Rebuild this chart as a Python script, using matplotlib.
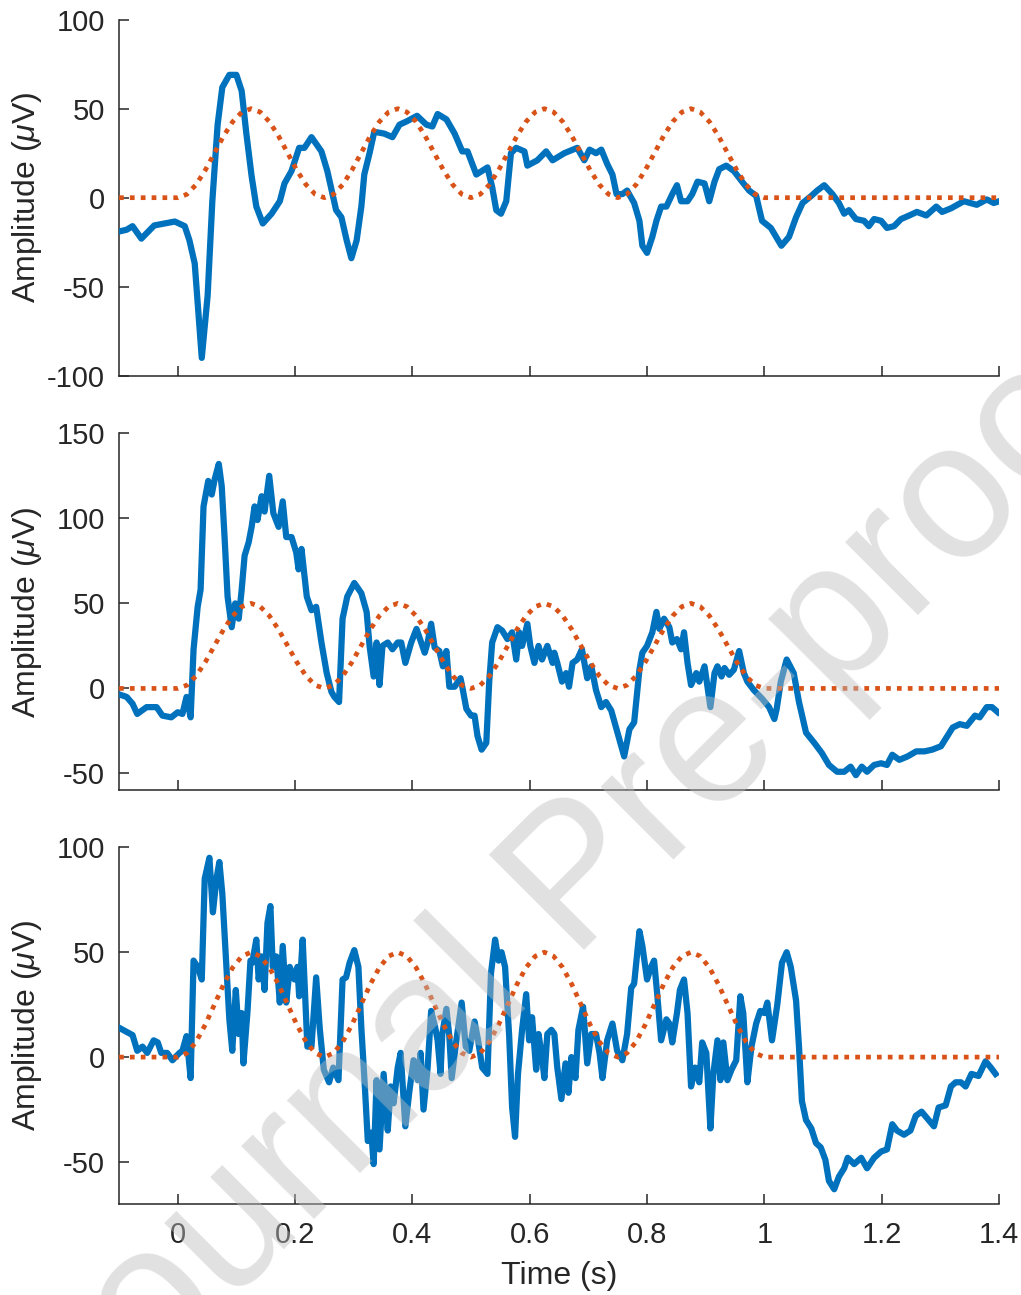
import numpy as np
import matplotlib
matplotlib.use('Agg')
from matplotlib import pyplot as plt

# Trace do painel superior (tempo em s, amplitude em uV)
top_t = [-0.1, -0.087, -0.077, -0.062, -0.04, -0.005, 0.012, 0.02, 0.029, 0.041,
         0.051, 0.059, 0.068, 0.076, 0.088, 0.1, 0.109, 0.117, 0.126, 0.134,
         0.145, 0.16, 0.174, 0.182, 0.194, 0.207, 0.216, 0.228, 0.245, 0.255,
         0.27, 0.279, 0.288, 0.296, 0.305, 0.313, 0.318, 0.327, 0.335, 0.352,
         0.366, 0.378, 0.391, 0.408, 0.424, 0.434, 0.443, 0.458, 0.472, 0.485,
         0.494, 0.509, 0.528, 0.536, 0.543, 0.551, 0.56, 0.568, 0.577, 0.591,
         0.596, 0.613, 0.628, 0.639, 0.659, 0.681, 0.693, 0.702, 0.713, 0.722,
         0.732, 0.741, 0.748, 0.758, 0.766, 0.778, 0.787, 0.792, 0.8, 0.809,
         0.816, 0.824, 0.833, 0.843, 0.851, 0.858, 0.869, 0.877, 0.886, 0.898,
         0.906, 0.915, 0.923, 0.935, 0.948, 0.962, 0.974, 0.986, 0.996, 1.011,
         1.029, 1.042, 1.054, 1.065, 1.08, 1.09, 1.102, 1.116, 1.127, 1.136,
         1.144, 1.156, 1.17, 1.178, 1.187, 1.199, 1.209, 1.221, 1.233, 1.247,
         1.26, 1.276, 1.293, 1.303, 1.318, 1.34, 1.362, 1.379, 1.391, 1.4]
top_v = [-19, -18, -16, -23, -15.6, -13.4, -16, -24, -37, -90,
         -55, -2, 41, 62, 69, 69, 60, 36, 12, -5,
         -14.5, -9, -2, 8, 15, 28, 28, 34, 26, 15,
         -7, -11, -24, -34, -24, -5, 13, 25, 37, 36,
         34, 41, 43, 46, 41, 40, 47, 44, 36, 26,
         26, 13, 17, 6, -7, -9, -2, 25, 28, 26,
         18, 21, 26, 21, 25, 28, 21, 27, 25, 27,
         19, 13, 2, 2, 4, -3, -13, -27, -31, -22,
         -13, -5, -5, 2, 7, -2, -2, 2, 9, 8,
         -2, 9, 16, 18, 15, 9, 4, 1, -13, -17,
         -27, -22, -11, -3, 1, 4, 7, 2, -3, -9,
         -7, -12, -13, -16, -12, -13, -17, -16, -12, -10,
         -8, -10, -5, -8, -6, -2, -4, -1, -3, -2]

# Trace do painel do meio
mid_t = [-0.1, -0.087, -0.077, -0.069, -0.053, -0.036, -0.026, -0.011, 0.0, 0.008,
         0.015, 0.022, 0.027, 0.034, 0.039, 0.044, 0.052, 0.058, 0.063, 0.07,
         0.075, 0.08, 0.085, 0.092, 0.098, 0.104, 0.109, 0.114, 0.121, 0.126,
         0.131, 0.136, 0.143, 0.148, 0.156, 0.163, 0.172, 0.179, 0.185, 0.194,
         0.202, 0.206, 0.211, 0.22, 0.228, 0.236, 0.245, 0.254, 0.262, 0.267,
         0.275, 0.281, 0.289, 0.301, 0.313, 0.322, 0.327, 0.334, 0.339, 0.344,
         0.349, 0.358, 0.366, 0.375, 0.381, 0.388, 0.398, 0.407, 0.415, 0.421,
         0.426, 0.432, 0.438, 0.446, 0.452, 0.458, 0.463, 0.472, 0.482, 0.485,
         0.492, 0.5, 0.506, 0.511, 0.518, 0.526, 0.531, 0.536, 0.545, 0.553,
         0.562, 0.57, 0.577, 0.582, 0.587, 0.596, 0.601, 0.608, 0.615, 0.621,
         0.63, 0.639, 0.642, 0.647, 0.655, 0.662, 0.667, 0.673, 0.681, 0.689,
         0.698, 0.705, 0.713, 0.722, 0.73, 0.739, 0.748, 0.756, 0.761, 0.77,
         0.778, 0.787, 0.792, 0.8, 0.809, 0.816, 0.821, 0.829, 0.838, 0.843,
         0.851, 0.858, 0.863, 0.869, 0.875, 0.884, 0.889, 0.898, 0.908, 0.915,
         0.92, 0.927, 0.932, 0.94, 0.948, 0.957, 0.965, 0.971, 0.982, 0.996,
         1.008, 1.017, 1.021, 1.028, 1.038, 1.05, 1.059, 1.071, 1.085, 1.098,
         1.11, 1.124, 1.136, 1.147, 1.156, 1.166, 1.175, 1.187, 1.199, 1.209,
         1.218, 1.23, 1.244, 1.259, 1.273, 1.286, 1.301, 1.31, 1.321, 1.333,
         1.345, 1.359, 1.367, 1.379, 1.388, 1.398]
mid_v = [-3.5, -5, -9, -15, -11, -11, -16, -17, -14, -15,
         -5, -17, 23, 48, 58, 107, 122, 114, 123, 132,
         119, 88, 54, 36, 50, 41, 58, 78, 86, 95,
         107, 99, 113, 104, 125, 103, 95, 110, 89, 89,
         80, 70, 82, 54, 46, 48, 27, 9, -2, -5,
         -8, 41, 54, 62, 56, 45, 25, 7, 27, 2,
         25, 27, 23, 27, 27, 15, 27, 35, 27, 21,
         27, 38, 24, 22, 13, 22, 1, 1, 6, 1,
         -12, -16, -16, -28, -36, -32, 4, 27, 36, 34,
         29, 33, 17, 33, 25, 38, 25, 15, 25, 17,
         25, 15, 21, 15, 4, 9, 1, 15, 17, 23,
         6, 13, -1, -11, -8, -13, -24, -34, -40, -24,
         -20, 11, 21, 25, 33, 45, 35, 41, 36, 27,
         29, 23, 33, 15, 2, 9, 4, 13, -11, 9,
         13, 7, 12, 8, 11, 22, 9, 4, -1, -6,
         -11, -18, -12, 4, 17, 9, -8, -26, -32, -38,
         -45, -49, -49, -46, -51, -46, -49, -45, -44, -45,
         -39, -42, -40, -37, -37, -36, -34, -29, -23, -21,
         -22, -16, -17, -11, -11, -14]

# Trace do painel inferior
bot_t = [-0.1, -0.087, -0.077, -0.069, -0.06, -0.052, -0.041, -0.034, -0.028, -0.018,
         -0.009, 0.003, 0.008, 0.015, 0.022, 0.027, 0.034, 0.041, 0.046, 0.054,
         0.06, 0.066, 0.071, 0.076, 0.083, 0.088, 0.093, 0.099, 0.104, 0.109,
         0.112, 0.119, 0.124, 0.127, 0.134, 0.138, 0.143, 0.148, 0.153, 0.158,
         0.162, 0.168, 0.174, 0.179, 0.185, 0.191, 0.199, 0.204, 0.207, 0.213,
         0.221, 0.228, 0.236, 0.242, 0.249, 0.258, 0.265, 0.274, 0.281, 0.287,
         0.293, 0.301, 0.308, 0.313, 0.319, 0.324, 0.33, 0.334, 0.339, 0.344,
         0.351, 0.358, 0.363, 0.368, 0.375, 0.38, 0.388, 0.395, 0.402, 0.409,
         0.414, 0.419, 0.426, 0.432, 0.439, 0.443, 0.448, 0.451, 0.458, 0.463,
         0.467, 0.475, 0.484, 0.491, 0.497, 0.506, 0.512, 0.519, 0.528, 0.534,
         0.541, 0.547, 0.552, 0.558, 0.565, 0.57, 0.575, 0.58, 0.587, 0.594,
         0.599, 0.604, 0.611, 0.615, 0.62, 0.625, 0.63, 0.637, 0.642, 0.647,
         0.654, 0.661, 0.666, 0.671, 0.678, 0.683, 0.691, 0.698, 0.705, 0.713,
         0.719, 0.724, 0.732, 0.741, 0.749, 0.758, 0.766, 0.773, 0.778, 0.787,
         0.792, 0.8, 0.807, 0.812, 0.817, 0.824, 0.833, 0.838, 0.843, 0.851,
         0.856, 0.863, 0.869, 0.875, 0.882, 0.889, 0.894, 0.901, 0.908, 0.913,
         0.92, 0.925, 0.93, 0.937, 0.944, 0.952, 0.959, 0.964, 0.971, 0.978,
         0.986, 0.993, 1.0, 1.005, 1.013, 1.022, 1.03, 1.038, 1.045, 1.054,
         1.059, 1.064, 1.071, 1.08, 1.088, 1.096, 1.104, 1.11, 1.119, 1.127,
         1.136, 1.142, 1.153, 1.165, 1.175, 1.187, 1.199, 1.209, 1.218, 1.226,
         1.238, 1.249, 1.258, 1.268, 1.277, 1.289, 1.297, 1.309, 1.318, 1.326,
         1.335, 1.343, 1.353, 1.365, 1.377, 1.386, 1.394]
bot_v = [14, 12, 10.5, 3, 5, 2, 8, 7, 2, 2,
         -1.5, 2, 3, 10, -10, 46, 43, 37, 85, 95,
         69, 85, 93, 78, 43, 18, 3, 32, 11, 21,
         -3, 22, 46, 45, 56, 37, 48, 32, 64, 72,
         43, 48, 26, 53, 26, 43, 37, 43, 29, 56,
         5, 5, 38, 14, -6, -12, -5, -11, 37, 38,
         45, 51, 43, 14, -14, -40, -36, -51, -11, -44,
         -8, -35, -14, -22, -5, 2, -33, -16, -1.5, -11,
         2, -25, -5, 22, 14, 8, -8, 11, 23, 10,
         -10, 8, 26, 5, 3, 17, 8, -5, -8, 40,
         56, 46, 50, 43, 10, -24, -38, -8, 13, 30,
         8, 19, -6, 11, 2, -10, 11, 13, 11, -5,
         -20, -3, -17, 0, -10, 13, 24, -3, 11, 11,
         2, -10, 8, 16, 3, -1.5, 11, 33, 35, 60,
         53, 37, 43, 46, 31, 8, 18, 16, 7, 21,
         32, 37, 21, -14, -5, -12, 7, 2, -34, -8,
         8, -11, 7, -11, -6, -1.5, 29, 21, -12, 5,
         16, 22, 21, 26, 8, 25, 45, 50, 43, 27,
         5, -21, -30, -34, -41, -43, -49, -59, -63, -57,
         -53, -48, -51, -48, -53, -48, -45, -44, -32, -35,
         -37, -35, -28, -26, -29, -33, -24, -23, -14, -12,
         -12, -14, -8, -9, -2, -5, -8]

# Estimulo (pontilhado laranja), amostrado a cada 1/64 s entre 0 e 1 s
stim_t = [-0.1] + [k / 64 for k in range(65)] + [1.4]
stim_v = [0,
          0, 1.9, 7.3, 15.4, 25, 34.6, 42.7, 48.1, 50, 48.1, 42.7, 34.6, 25, 15.4, 7.3, 1.9,
          0, 1.9, 7.3, 15.4, 25, 34.6, 42.7, 48.1, 50, 48.1, 42.7, 34.6, 25, 15.4, 7.3, 1.9,
          0, 1.9, 7.3, 15.4, 25, 34.6, 42.7, 48.1, 50, 48.1, 42.7, 34.6, 25, 15.4, 7.3, 1.9,
          0, 1.9, 7.3, 15.4, 25, 34.6, 42.7, 48.1, 50, 48.1, 42.7, 34.6, 25, 15.4, 7.3, 1.9,
          0,
          0]

x_ticks = [0, 0.2, 0.4, 0.6, 0.8, 1, 1.2, 1.4]
x_tick_labels = ['0', '0.2', '0.4', '0.6', '0.8', '1', '1.2', '1.4']

AZUL = '#0072BD'
LARANJA = '#D95319'
CINZA = '#262626'

plt.rcParams['font.family'] = ['Liberation Sans', 'DejaVu Sans']
plt.rcParams['mathtext.fontset'] = 'custom'
plt.rcParams['mathtext.rm'] = 'Liberation Sans'
plt.rcParams['mathtext.it'] = 'Liberation Sans:italic'
plt.rcParams['axes.unicode_minus'] = False


def configura_eixo(ax, ylim, yticks, mostra_x):
    ax.set_xlim(-0.1, 1.4)
    ax.set_ylim(*ylim)
    ax.set_yticks(yticks)
    ax.set_yticklabels([str(v) for v in yticks])
    ax.set_xticks(x_ticks)
    if mostra_x:
        ax.set_xticklabels(x_tick_labels)
    else:
        ax.set_xticklabels([])
    for lado in ['top', 'right']:
        ax.spines[lado].set_visible(False)
    for lado in ['left', 'bottom']:
        ax.spines[lado].set_color(CINZA)
        ax.spines[lado].set_linewidth(1.1)
    ax.tick_params(direction='in', length=7, width=1.1, color=CINZA,
                   labelcolor=CINZA, labelsize=21)
    ax.tick_params(axis='y', pad=10)
    ax.tick_params(axis='x', pad=12)
    ax.set_ylabel(r'Amplitude ($\mu$V)', fontsize=23, color=CINZA)
    ax.yaxis.set_label_coords(-0.085, 0.5)


def plota_painel(ax, t, v):
    ax.plot(t, v, color=AZUL, linewidth=4.5, solid_joinstyle='round', zorder=3)
    ax.plot(stim_t, stim_v, color=LARANJA, linewidth=3.4,
            linestyle=(0, (1, 1.3)), dash_capstyle='butt', zorder=4)


fig = plt.figure(figsize=(10.21, 12.95), dpi=100)
ax1 = fig.add_axes([0.1166, 0.7099, 0.8619, 0.2749])
ax2 = fig.add_axes([0.1166, 0.3896, 0.8619, 0.2758])
ax3 = fig.add_axes([0.1166, 0.0703, 0.8619, 0.2754])

plota_painel(ax1, top_t, top_v)
configura_eixo(ax1, (-100, 100), [-100, -50, 0, 50, 100], False)

plota_painel(ax2, mid_t, mid_v)
configura_eixo(ax2, (-60, 150), [-50, 0, 50, 100, 150], False)

plota_painel(ax3, bot_t, bot_v)
configura_eixo(ax3, (-70, 100), [-50, 0, 50, 100], True)
ax3.set_xlabel('Time (s)', fontsize=23, color=CINZA)
ax3.xaxis.set_label_coords(0.5, -0.16)

# Marca d'agua
fig.text(0.567, 0.318, 'Journal Pre-proof', rotation=45, fontsize=140,
         color='#bdbdbd', alpha=0.45, ha='center', va='center',
         rotation_mode='anchor', zorder=10)

fig.savefig('out.png', dpi=100)
